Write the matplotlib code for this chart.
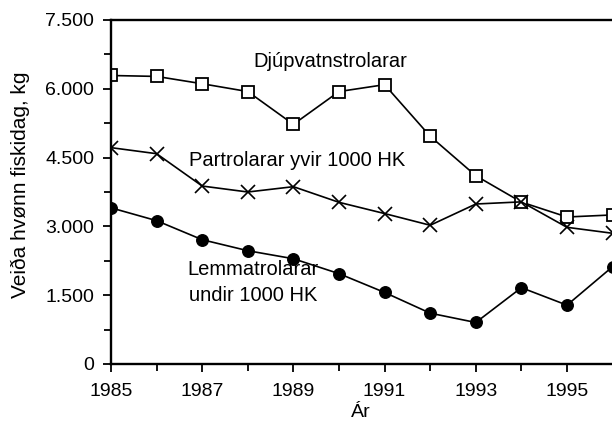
import numpy as np
import matplotlib.pyplot as plt
from matplotlib.ticker import FixedLocator, MultipleLocator, FuncFormatter

plt.rcParams['font.family'] = ['Liberation Sans', 'DejaVu Sans']

years = np.arange(1985, 1997)

djupvatn = np.array([6290, 6270, 6110, 5940, 5225, 5940, 6090, 4965, 4105, 3530, 3205, 3250])
partrolarar = np.array([4717, 4585, 3880, 3750, 3866, 3525, 3280, 3025, 3488, 3535, 2980, 2850])
lemma = np.array([3405, 3125, 2710, 2470, 2295, 1970, 1560, 1108, 905, 1664, 1283, 2122])

year_labels = [1985, 1987, 1989, 1991, 1993, 1995]

fig = plt.figure(figsize=(6.12, 4.30), dpi=100)
ax = fig.add_axes([111/612, 66/430, 12*45.6/612, 344/430])

ax.plot(years, djupvatn, color='black', lw=1.2, marker='s', ms=8,
        mfc='white', mec='black', mew=1.3)
ax.plot(years, partrolarar, color='black', lw=1.2, marker='x', ms=9.5,
        mew=1.2)
ax.plot(years, lemma, color='black', lw=1.2, marker='o', ms=8.3,
        mfc='black', mec='black')

ax.set_xlim(1985, 1997)
ax.set_ylim(0, 7500)

ax.xaxis.set_major_locator(FixedLocator(year_labels))
ax.xaxis.set_minor_locator(FixedLocator(list(years)))
ax.yaxis.set_major_locator(MultipleLocator(1500))
ax.yaxis.set_minor_locator(MultipleLocator(750))
ax.yaxis.set_major_formatter(FuncFormatter(lambda v, p: f"{int(v):,}".replace(',', '.')))

ax.tick_params(which='both', direction='out', top=False, right=False,
               labelsize=14, width=1.3)
ax.tick_params(axis='x', pad=8)
ax.tick_params(axis='y', pad=6)
ax.tick_params(which='major', length=6)
ax.tick_params(which='minor', length=5)

for s in ['left', 'bottom', 'top']:
    ax.spines[s].set_linewidth(1.7)
ax.spines['right'].set_visible(False)

ax.set_xlabel('Ár', fontsize=14)
ax.xaxis.set_label_coords(0.457, -0.115)
ax.set_ylabel('Veiða hvønn fiskidag, kg', fontsize=15)
ax.yaxis.set_label_coords(-0.148, 0.52)

ax.text(1989.82, 6600, 'Djúpvatnstrolarar', fontsize=14.5, ha='center', va='center')
ax.text(1989.08, 4430, 'Partrolarar yvir 1000 HK', fontsize=14.5, ha='center', va='center')
ax.text(1988.11, 1770, 'Lemmatrolarar\nundir 1000 HK', fontsize=14.5, ha='center',
        va='center', linespacing=1.45)

fig.savefig('out.png', dpi=100)
